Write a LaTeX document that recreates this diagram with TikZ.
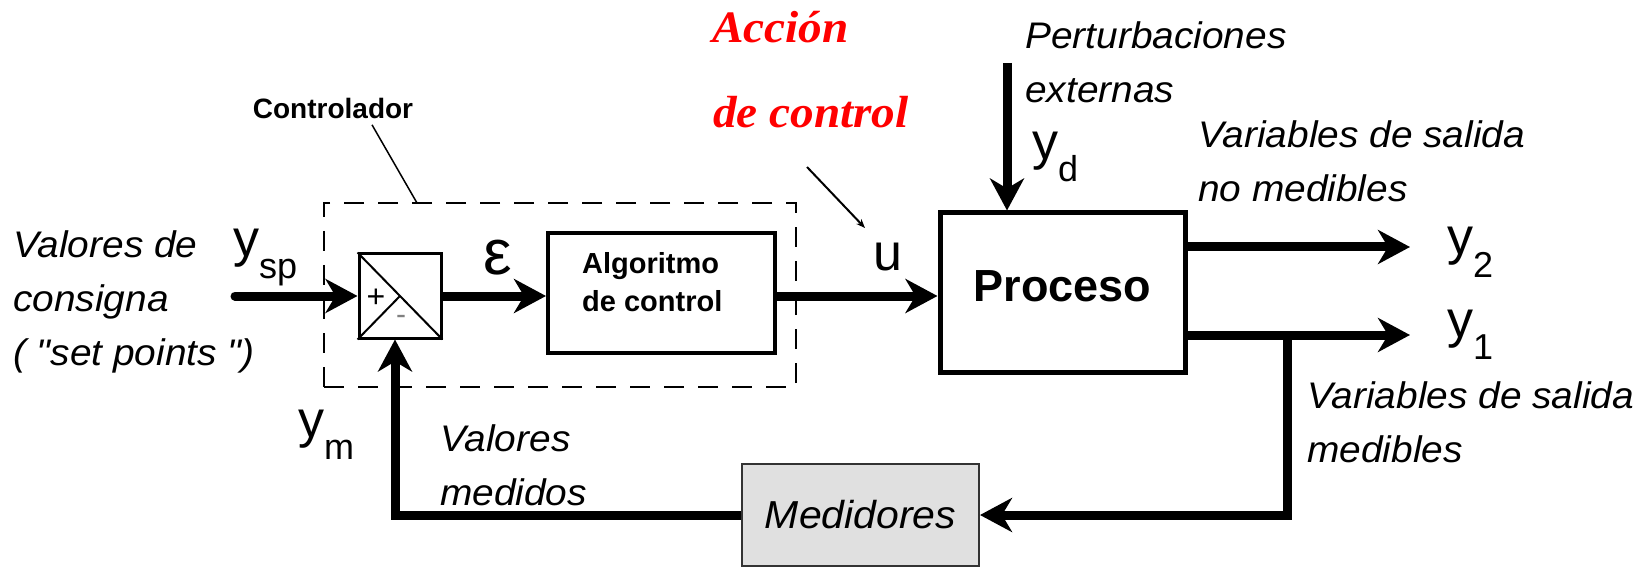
\documentclass[tikz,border=0pt]{standalone}
\usepackage{fontspec}
\setmainfont{Liberation Sans}
\newfontfamily\lsans{Liberation Sans}[FakeStretch=1.05]
\newfontfamily\serifred{Liberation Serif}[FakeStretch=1.05]
\usetikzlibrary{arrows.meta}
\newcommand\myfs[2]{\fontsize{#1pt}{#2pt}\selectfont}
\newcommand\ylab[1]{{\myfs{52}{52}y}\raisebox{-22pt}{\myfs{36}{36}#1}}
\begin{document}
\begin{tikzpicture}[x=1pt,y=-1pt,
  arr/.style={line width=9pt,-{Stealth[length=32pt,width=34pt,inset=10pt]}},
  blk/.style={draw, rectangle, inner sep=0pt},
  itl/.style={font=\lsans\myfs{37}{54}\itshape, align=left, anchor=base west, inner sep=0pt},
  lab/.style={anchor=base west, inner sep=0pt},
  redtxt/.style={font=\serifred\myfs{45}{45}\bfseries\itshape, text=red, anchor=base west, inner sep=0pt}
]
\path[use as bounding box, fill=white] (0,0) rectangle (1643,577);

% controller dashed frame
\node[draw, line width=2pt, dash pattern=on 20pt off 14pt, minimum width=472pt, minimum height=184pt, inner sep=0pt] (ctrl) at (560,295) {};
\node[font=\myfs{28}{28}\bfseries] (ctl) at (333,108) {Controlador};
\coordinate (ctlend) at (417,203);
\draw[line width=1.5pt] ([xshift=39pt,yshift=-3pt]ctl.south) -- (ctlend);

% summing junction
\node[blk, line width=3pt, minimum width=82pt, minimum height=84pt] (sum) at (400,296) {};
\draw[line width=2pt] (sum.north west) -- (sum.south east) (sum.south west) -- (sum.center);
\node[font=\myfs{32}{32}] (plus) at (376,298) {+};
\node[font=\myfs{30}{30}, text=gray] (minus) at (401,320) {-};

% blocks
\node[blk, line width=4pt, minimum width=227pt, minimum height=120pt] (alg) at (661.5,293) {};
\node[font=\myfs{29}{39}\bfseries, align=left, anchor=base west, inner sep=0pt] (algtxt) at (582,312) {Algoritmo\\de control};
\node[blk, line width=5pt, minimum width=245pt, minimum height=159pt, text depth=12pt, font=\myfs{45}{45}\bfseries] (proc) at (1062.5,292.5) {Proceso};
\node[blk, line width=2pt, draw=black!80, fill=black!12, minimum width=237pt, minimum height=102pt, font=\lsans\myfs{39}{39}\itshape] (med) at (860.5,515) {Medidores};

% red text and pointer
\node[redtxt] (acc1) at (712,43) {Acción};
\node[redtxt] (acc2) at (713,128) {de control};
\coordinate (pstart) at (807,167);
\coordinate (ptip) at (865,228);
\draw[line width=2pt, -{Stealth[length=9pt,width=7pt]}] (pstart) -- (ptip);

% descriptive texts (anchored at the baseline of their last line)
\node[itl] (vc) at (13,365) {Valores de\\consigna\\( "set points ")};
\node[itl] (pert) at (1025,103) {Perturbaciones\\externas};
\node[itl] (vnm) at (1198,202) {Variables de salida\\no medibles};
\node[itl] (vm) at (1307,462) {Variables de salida\\medibles};
\node[itl] (vmed) at (440,505) {Valores\\medidos};

% signal labels
\node[lab] (ysp) at (233,257) {\ylab{sp}};
\node[lab] (yd) at (1032,160) {\ylab{d}};
\node[lab] (ym) at (298,437) {\ylab{m}};
\node[lab] (ytwo) at (1447,255) {\ylab{2}};
\node[lab] (yone) at (1447,337) {\ylab{1}};
\node[lab, font=\myfs{52}{52}] (u) at (873,270) {u};
\node[font=\myfs{64}{64}] (eps) at (498,258) {ε};

% connectors
\coordinate (in) at (235,296);
\draw[arr, line cap=round] (in) -- (sum.west);
\draw[arr] (sum.east) -- (alg.west |- sum.east);
\draw[arr] (alg.east |- sum.east) -- (proc.west |- sum.east);
\coordinate (dtop) at (1007,63);
\draw[arr] (dtop) -- (proc.north -| dtop);
\coordinate (y2tip) at (1410,247);
\coordinate (y1tip) at (1410,335);
\draw[arr] (proc.east |- y2tip) -- (y2tip);
\draw[arr] (proc.east |- y1tip) -- (y1tip);
\coordinate (br) at (1287,335);
\coordinate (brd) at (1287,515);
\draw[arr] (br) -- (brd) -- (med.east);
\coordinate (fb) at (395,515);
\draw[arr] (med.west) -- (fb) -- (sum.south -| fb);
\end{tikzpicture}
\end{document}
